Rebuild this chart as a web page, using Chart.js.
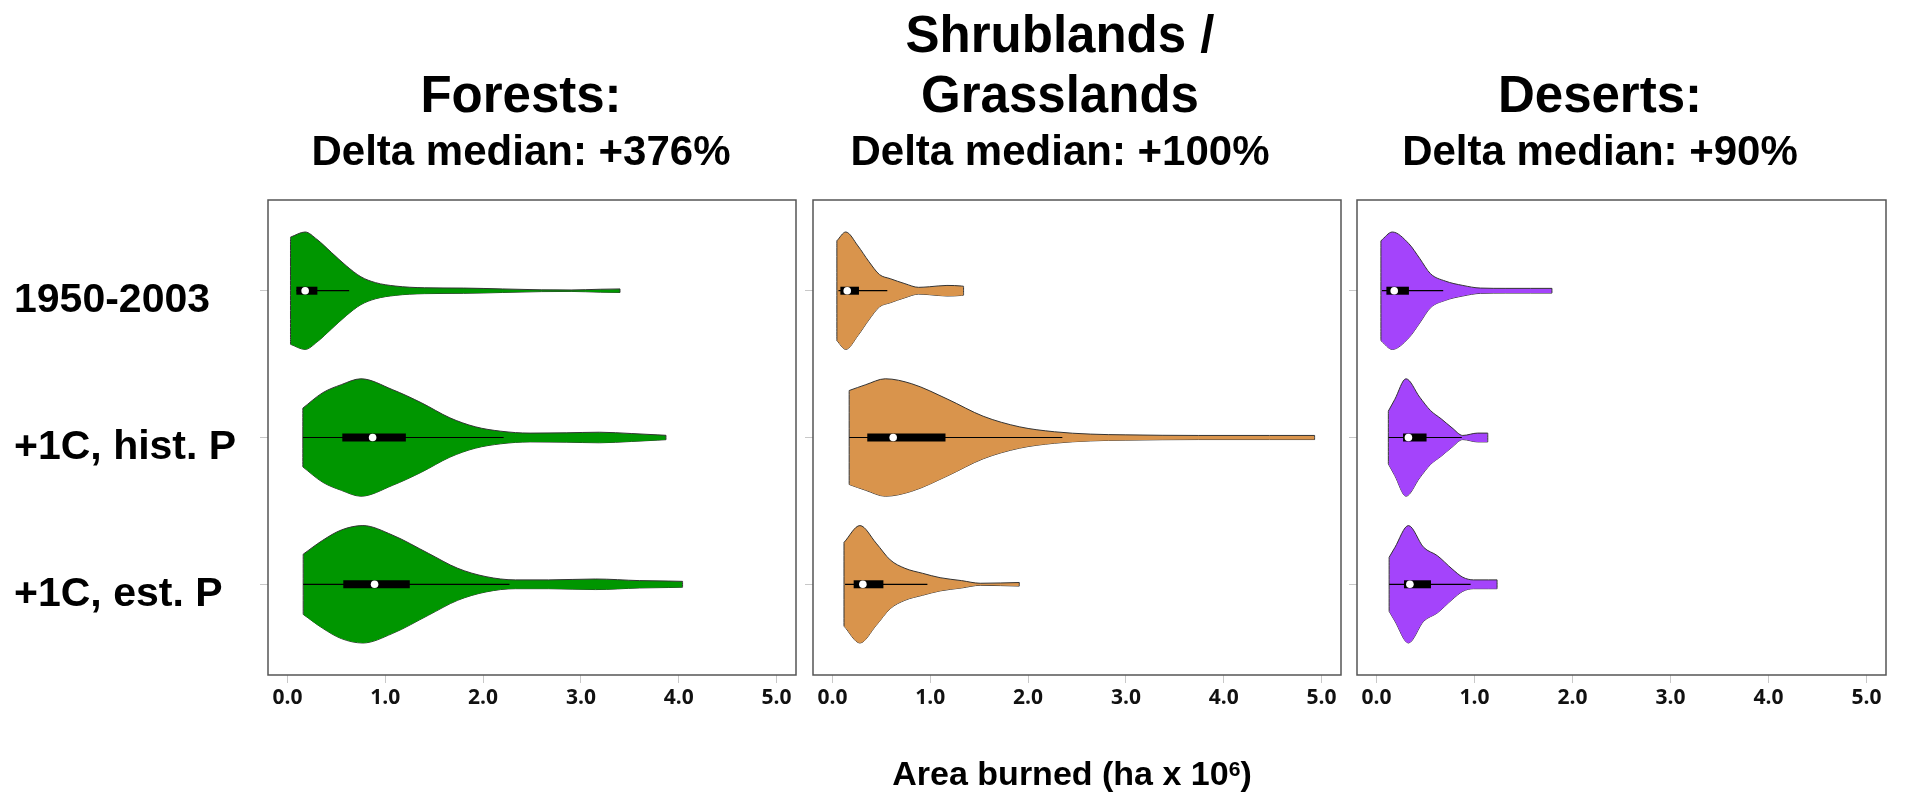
<!DOCTYPE html>
<html>
<head>
<meta charset="utf-8">
<script src="https://cdn.jsdelivr.net/npm/chart.js"></script>
<style>
  body { margin: 0; background: #fff; width: 1907px; height: 795px; overflow: hidden; position: relative;
         font-family: "Liberation Sans", Arial, sans-serif; font-weight: bold; color: #000; }
  canvas { position: absolute; top: 0; }
  .t { position: absolute; width: 640px; text-align: center; white-space: nowrap; line-height: 1; }
  .sup { position: relative; top: -0.42em; font-size: 0.62em; }
</style>
</head>
<body>
<canvas id="c0" width="800" height="795" style="left:0px"></canvas>
<canvas id="c1" width="560" height="795" style="left:790px"></canvas>
<canvas id="c2" width="573" height="795" style="left:1334px"></canvas>
<script>
// categories / labels
const rowLabels = ['1950-2003', '+1C, hist. P', '+1C, est. P'];
const rowPos = [1, 2, 3];
const xTickValues = [0, 1, 2, 3, 4, 5];
const panelTitles = [['', 'Forests:'], ['Shrublands /', 'Grasslands'], ['', 'Deserts:']];
const deltaLabels = ['Delta median: +376%', 'Delta median: +100%', 'Delta median: +90%'];
const axisTitle = 'Area burned (ha x 10';
const axisTitleSup = '6';

// violin outlines: area burned and half width (row spacing = 1)
const forestX = [
  [0.03, 0.18, 0.30, 0.45, 0.60, 0.75, 0.90, 1.10, 1.40, 1.80, 2.20, 2.60, 2.90, 3.20, 3.40],
  [0.156, 0.36, 0.55, 0.75, 1.07, 1.37, 1.66, 1.92, 2.18, 2.48, 2.85, 3.19, 3.52, 3.78, 3.87],
  [0.16, 0.36, 0.55, 0.77, 1.07, 1.44, 1.74, 2.03, 2.33, 2.67, 3.15, 3.60, 3.90, 4.04]
];
const forestW = [
  [0.365, 0.40, 0.35, 0.26, 0.17, 0.095, 0.055, 0.032, 0.02, 0.018, 0.012, 0.006, 0.005, 0.01, 0.012],
  [0.20, 0.305, 0.36, 0.40, 0.327, 0.236, 0.134, 0.073, 0.043, 0.03, 0.032, 0.036, 0.027, 0.018, 0.015],
  [0.205, 0.30, 0.37, 0.40, 0.336, 0.211, 0.109, 0.052, 0.03, 0.03, 0.036, 0.025, 0.022, 0.02]
];
const shrubX = [
  [0.044, 0.135, 0.26, 0.37, 0.48, 0.59, 0.74, 0.88, 0.99, 1.17, 1.32, 1.34],
  [0.17, 0.34, 0.54, 0.81, 1.18, 1.54, 1.91, 2.27, 2.64, 3.00, 3.74, 4.47, 4.93],
  [0.117, 0.28, 0.446, 0.59, 0.74, 0.92, 1.10, 1.32, 1.51, 1.72, 1.91]
];
const shrubW = [
  [0.34, 0.40, 0.305, 0.20, 0.11, 0.082, 0.048, 0.023, 0.027, 0.036, 0.032, 0.03],
  [0.32, 0.36, 0.40, 0.366, 0.26, 0.145, 0.073, 0.039, 0.023, 0.018, 0.014, 0.014, 0.014],
  [0.285, 0.40, 0.28, 0.166, 0.109, 0.075, 0.045, 0.025, 0.007, 0.009, 0.012]
];
const desertX = [
  [0.044, 0.16, 0.33, 0.44, 0.55, 0.70, 0.88, 1.06, 1.32, 1.57, 1.79],
  [0.12, 0.186, 0.30, 0.44, 0.55, 0.66, 0.77, 0.88, 1.03, 1.135],
  [0.128, 0.186, 0.325, 0.48, 0.62, 0.77, 0.88, 0.99, 1.14, 1.23]
];
const desertW = [
  [0.34, 0.40, 0.32, 0.22, 0.116, 0.066, 0.036, 0.018, 0.016, 0.016, 0.016],
  [0.18, 0.26, 0.40, 0.275, 0.184, 0.127, 0.066, 0.014, 0.03, 0.03],
  [0.184, 0.25, 0.40, 0.252, 0.195, 0.105, 0.048, 0.03, 0.03, 0.03]
];

// box plot parts: whisker range, quartile box, median
const forestWhisker = [[0.09, 0.63], [0.156, 2.21], [0.16, 2.27]];
const forestBox = [[0.09, 0.305], [0.56, 1.21], [0.57, 1.25]];
const forestMedian = [0.18, 0.87, 0.89];
const shrubWhisker = [[0.06, 0.56], [0.17, 2.35], [0.128, 0.97]];
const shrubBox = [[0.08, 0.27], [0.355, 1.155], [0.216, 0.52]];
const shrubMedian = [0.15, 0.62, 0.31];
const desertWhisker = [[0.055, 0.68], [0.12, 0.87], [0.128, 0.96]];
const desertBox = [[0.10, 0.33], [0.27, 0.51], [0.28, 0.555]];
const desertMedian = [0.18, 0.325, 0.34];

const colors = ['#009600', '#d9944c', '#a444fb'];

// titles (html text)
const titleCenters = [521, 1060, 1600];
titleCenters.forEach((cx, i) => {
  panelTitles[i].forEach((line, k) => {
    const d = document.createElement('div');
    d.className = 't';
    d.style.left = (cx - 320) + 'px';
    d.style.top = (k === 0 ? 9 : 69) + 'px';
    d.style.fontSize = '51px';
    d.textContent = line;
    document.body.appendChild(d);
  });
  const s = document.createElement('div');
  s.className = 't';
  s.style.left = (cx - 320) + 'px';
  s.style.top = '130px';
  s.style.fontSize = '42px';
  s.textContent = deltaLabels[i];
  document.body.appendChild(s);
});
const at = document.createElement('div');
at.className = 't';
at.style.left = (1072 - 320) + 'px';
at.style.top = '756px';
at.style.fontSize = '34px';
at.textContent = axisTitle;
const sup = document.createElement('span');
sup.className = 'sup';
sup.textContent = axisTitleSup;
at.appendChild(sup);
at.appendChild(document.createTextNode(')'));
document.body.appendChild(at);

// build datasets for one panel
function violinSets(xs, ws, whisk, box, med, color) {
  const sets = [];
  xs.forEach((xv, i) => {
    const y = rowPos[i];
    const w = ws[i];
    const n = xv.length;
    const edge = { type: 'line', borderColor: '#333', borderWidth: 1, pointRadius: 0,
                   cubicInterpolationMode: 'monotone', order: 4 };
    sets.push({ ...edge, data: xv.map((x, k) => ({ x, y: y - w[k] })), fill: '+1', backgroundColor: color });
    sets.push({ ...edge, data: xv.map((x, k) => ({ x, y: y + w[k] })), fill: false });
    sets.push({ ...edge, order: 3, fill: false, data: [{ x: xv[0], y: y - w[0] }, { x: xv[0], y: y + w[0] }] });
    sets.push({ ...edge, order: 3, fill: false, data: [{ x: xv[n - 1], y: y - w[n - 1] }, { x: xv[n - 1], y: y + w[n - 1] }] });
    sets.push({ type: 'line', data: whisk[i].map(x => ({ x, y })), borderColor: '#000', borderWidth: 1.2,
                pointRadius: 0, fill: false, order: 2 });
    sets.push({ type: 'line', data: box[i].map(x => ({ x, y })), borderColor: '#000', borderWidth: 8,
                borderCapStyle: 'butt', pointRadius: 0, fill: false, order: 1 });
    sets.push({ type: 'line', data: [{ x: med[i], y }], showLine: false, pointRadius: 3.8,
                pointBackgroundColor: '#fff', pointBorderWidth: 0, order: 0 });
  });
  return sets;
}

// box round the plot area
const frame = {
  id: 'frame',
  afterDatasetsDraw(chart) {
    const { ctx, chartArea: a } = chart;
    ctx.save();
    ctx.strokeStyle = '#555';
    ctx.lineWidth = 1.5;
    ctx.strokeRect(a.left, a.top, a.right - a.left, a.bottom - a.top);
    ctx.restore();
  }
};

function makePanel(id, sets, o) {
  return new Chart(document.getElementById(id), {
    type: 'line',
    data: { datasets: sets },
    options: {
      responsive: false,
      animation: false,
      devicePixelRatio: 1,
      layout: { padding: { left: o.padL, right: o.padR, top: 200, bottom: 80 } },
      plugins: { legend: { display: false }, tooltip: { enabled: false } },
      scales: {
        x: {
          type: 'linear', min: -0.2, max: 5.2,
          afterBuildTicks: s => { s.ticks = xTickValues.map(v => ({ value: v })); },
          afterFit: s => { s.height = 40; },
          grid: { drawOnChartArea: false, color: '#c8c8c8', tickLength: 8 },
          border: { display: false },
          ticks: { autoSkip: false, maxRotation: 0, padding: 2, color: '#111',
                   font: { family: '"Open Sans"', size: 21, weight: 'bold' },
                   callback: v => Number(v).toFixed(1) }
        },
        y: {
          type: 'linear', reverse: true, min: 0.382, max: 3.618,
          afterBuildTicks: s => { s.ticks = rowPos.map(v => ({ value: v })); },
          afterFit: s => { s.width = o.yW; },
          grid: { drawOnChartArea: false, color: '#c8c8c8', tickLength: 8 },
          border: { display: false },
          ticks: { display: o.labels, crossAlign: 'far', labelOffset: 10, padding: 8, color: '#000',
                   font: { family: 'Liberation Sans', size: 41, weight: 'bold' },
                   callback: (v, i) => rowLabels[i] }
        }
      }
    },
    plugins: [frame]
  });
}

makePanel('c0', violinSets(forestX, forestW, forestWhisker, forestBox, forestMedian, colors[0]),
  { padL: 14, padR: 3, yW: 254, labels: true });
makePanel('c1', violinSets(shrubX, shrubW, shrubWhisker, shrubBox, shrubMedian, colors[1]),
  { padL: 0, padR: 9, yW: 23, labels: false });
makePanel('c2', violinSets(desertX, desertW, desertWhisker, desertBox, desertMedian, colors[2]),
  { padL: 0, padR: 21, yW: 23, labels: false });
</script>
</body>
</html>
